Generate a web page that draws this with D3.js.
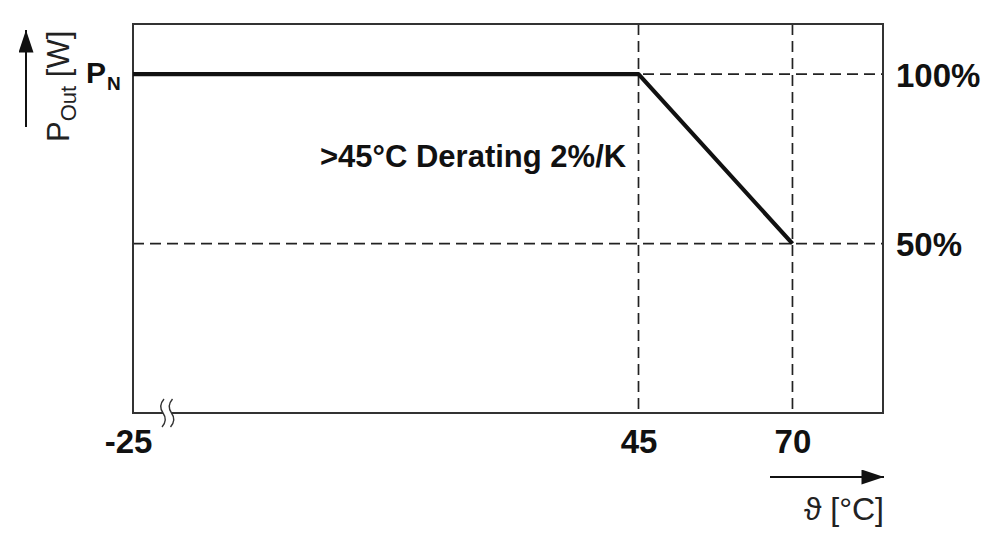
<!DOCTYPE html>
<html>
<head>
<meta charset="utf-8">
<script src="https://cdn.jsdelivr.net/npm/d3@7"></script>
<style>
  body { margin: 0; background: #fff; }
  svg { display: block; }
</style>
</head>
<body>
<script>
// derating curve: ambient temperature vs. output power in %
const temps = [-25, 45, 70];
const power = [100, 100, 50];

// tick labels
const xTicks = [-25, 45, 70];
const yTicks = [50, 100];

// reference (dashed) lines
const vGuides = [45, 70];
const hGuides = [100, 50];

const annotation = ">45°C Derating 2%/K";

function drawChart(width = 1000, height = 547) {

  const margin = { top: 24, right: 117, bottom: 134, left: 133 };

  const svg = d3.select("body")
    .append("svg")
    .attr("width", width)
    .attr("height", height);

  // x has a break between -25 and the rest, so it is compressed on the left
  const x = d3.scaleLinear()
    .domain([-25, 45, 84.7])
    .range([margin.left, 638.5, width - margin.right]);

  const y = d3.scaleLinear()
    .domain([0, 114.8])
    .range([height - margin.bottom, margin.top]);

  const x0 = x.range()[0], x1 = x.range()[2];
  const y0 = y.range()[0], y1 = y.range()[1];

  // dashed guides
  svg.selectAll("line.vguide")
    .data(vGuides)
    .join("line")
    .attr("class", "vguide")
    .attr("x1", d => x(d)).attr("x2", d => x(d))
    .attr("y1", y1).attr("y2", y0)
    .attr("stroke", "#222")
    .attr("stroke-width", 1.7)
    .attr("stroke-dasharray", "11,6");

  svg.selectAll("line.hguide")
    .data(hGuides)
    .join("line")
    .attr("class", "hguide")
    .attr("x1", x0).attr("x2", x1)
    .attr("y1", d => y(d)).attr("y2", d => y(d))
    .attr("stroke", "#222")
    .attr("stroke-width", 1.7)
    .attr("stroke-dasharray", "11,6");

  // frame
  svg.append("rect")
    .attr("x", x0).attr("y", y1)
    .attr("width", x1 - x0).attr("height", y0 - y1)
    .attr("fill", "none")
    .attr("stroke", "#333")
    .attr("stroke-width", 2);

  // axis break on the bottom edge
  const bx = [163, 171.5];
  svg.append("rect")
    .attr("x", bx[0]).attr("y", y0 - 3)
    .attr("width", bx[1] - bx[0]).attr("height", 6)
    .attr("fill", "#fff");

  svg.selectAll("path.brk")
    .data(bx)
    .join("path")
    .attr("class", "brk")
    .attr("d", d => `M${d + 1},${y0 - 14} Q${d - 5},${y0 - 7} ${d},${y0} T${d - 1},${y0 + 14}`)
    .attr("fill", "none")
    .attr("stroke", "#333")
    .attr("stroke-width", 1.4);

  // the curve
  const line = d3.line()
    .x(d => x(d[0]))
    .y(d => y(d[1]));

  svg.append("path")
    .datum(d3.zip(temps, power))
    .attr("d", line)
    .attr("fill", "none")
    .attr("stroke", "#111")
    .attr("stroke-width", 4.2)
    .attr("stroke-linejoin", "round");

  const boldFont = "Liberation Sans, Arial, sans-serif";

  // x tick labels
  const xAxis = svg.append("g")
    .attr("transform", `translate(0,${y0})`)
    .call(d3.axisBottom(x).tickValues(xTicks).tickSize(0).tickPadding(17)
      .tickFormat(d => String(d)));
  xAxis.select(".domain").remove();
  xAxis.selectAll("text")
    .attr("font-family", boldFont)
    .attr("font-weight", "bold")
    .attr("font-size", 33)
    .attr("fill", "#111");
  xAxis.selectAll(".tick").filter(d => d === -25).select("text").attr("dx", -5);

  // right percentage labels
  const yAxis = svg.append("g")
    .attr("transform", `translate(${x1},0)`)
    .call(d3.axisRight(y).tickValues(yTicks).tickSize(0).tickPadding(13).tickFormat(d => d + "%"));
  yAxis.select(".domain").remove();
  yAxis.selectAll("text")
    .attr("font-family", boldFont)
    .attr("font-weight", "bold")
    .attr("font-size", 33)
    .attr("dy", "0.36em")
    .attr("fill", "#111");

  // annotation
  svg.append("text")
    .attr("x", 320).attr("y", 167)
    .attr("font-family", boldFont)
    .attr("font-weight", "bold")
    .attr("font-size", 31)
    .attr("fill", "#111")
    .text(annotation);

  // P_N label
  const pn = svg.append("text")
    .attr("x", 86).attr("y", y(100) + 9)
    .attr("font-family", boldFont)
    .attr("font-weight", "bold")
    .attr("fill", "#111");
  pn.append("tspan").attr("font-size", 30).text("P");
  pn.append("tspan").attr("font-size", 19).attr("dx", 1).attr("dy", 7).text("N");

  // arrows
  const defs = svg.append("defs");
  defs.append("marker")
    .attr("id", "head")
    .attr("viewBox", "0 0 24 16")
    .attr("refX", 24).attr("refY", 8)
    .attr("markerWidth", 25).attr("markerHeight", 15)
    .attr("markerUnits", "userSpaceOnUse")
    .attr("orient", "auto")
    .append("path")
    .attr("d", "M0,0 L24,8 L0,16 Z")
    .attr("fill", "#111");

  svg.append("line")
    .attr("x1", 26).attr("x2", 26)
    .attr("y1", 127).attr("y2", 30)
    .attr("stroke", "#111").attr("stroke-width", 2)
    .attr("marker-end", "url(#head)");

  svg.append("line")
    .attr("x1", 770).attr("x2", x1 + 1)
    .attr("y1", 477).attr("y2", 477)
    .attr("stroke", "#111").attr("stroke-width", 2)
    .attr("marker-end", "url(#head)");

  // axis titles
  const yt = svg.append("text")
    .attr("transform", "translate(69,142) rotate(-90)")
    .attr("font-family", "Liberation Sans, Arial, sans-serif")
    .attr("font-size", 31)
    .attr("fill", "#222");
  yt.append("tspan").text("P");
  yt.append("tspan").attr("font-size", 22).attr("dy", 7).text("Out");
  yt.append("tspan").attr("dy", -7).text(" [W]");

  svg.append("text")
    .attr("x", x1 + 1).attr("y", 520)
    .attr("text-anchor", "end")
    .attr("font-family", "Liberation Sans, DejaVu Sans, sans-serif")
    .attr("font-size", 32)
    .attr("fill", "#222")
    .text("ϑ [°C]");
}

drawChart();
</script>
</body>
</html>
